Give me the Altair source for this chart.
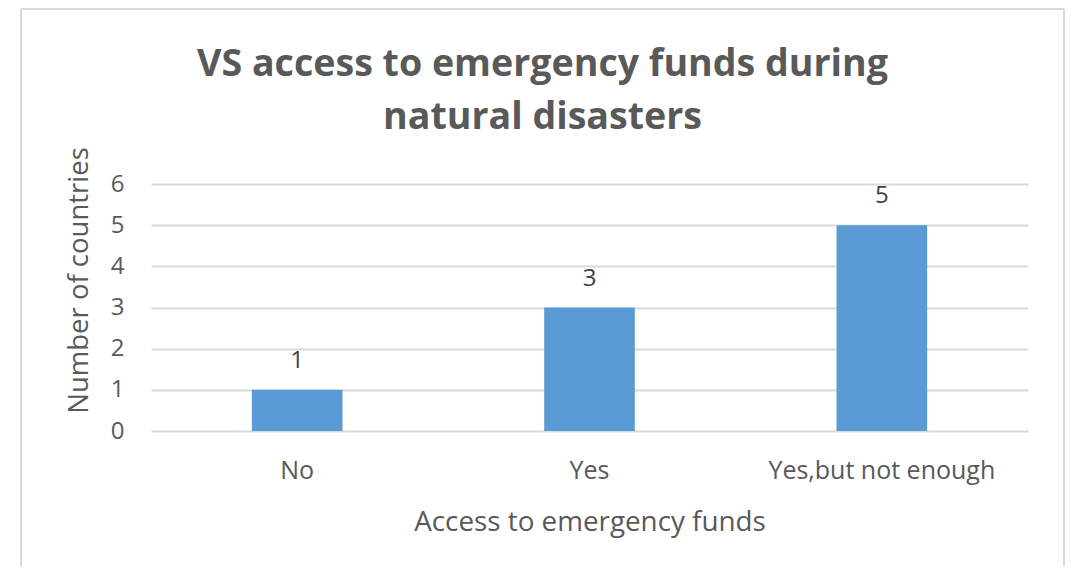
import altair as alt
import pandas as pd

categories = ["No", "Yes", "Yes,but not enough"]
counts = [1, 3, 5]
y_ticks = [0, 1, 2, 3, 4, 5, 6]

df = pd.DataFrame({"access": categories, "count": counts})
one = pd.DataFrame({"k": [0]})

FONT = "Open Sans"
GRAY = "#595959"
GRID = "#d9d9d9"
BAR = "#5B9BD5"

x_enc = alt.X(
    "access:N",
    sort=categories,
    scale=alt.Scale(paddingInner=0.69, paddingOuter=0.345),
    axis=alt.Axis(
        title="Access to emergency funds",
        labelAngle=0, domain=False, ticks=False, tickSize=0, grid=False,
        labelFont=FONT, labelFontSize=25, labelColor=GRAY, labelLimit=0,
        labelBaseline="alphabetic", labelPadding=47,
        titleFont=FONT, titleFontSize=27.8, titleFontWeight="normal",
        titleColor=GRAY, titleBaseline="alphabetic", titleY=99,
    ),
)
y_enc = alt.Y(
    "count:Q",
    scale=alt.Scale(domain=[0, 6], nice=False),
    axis=alt.Axis(
        title="Number of countries",
        values=y_ticks, domain=False, ticks=False, tickSize=0,
        grid=True, gridColor=GRID, gridWidth=2,
        labelFont=FONT, labelFontSize=24, labelColor=GRAY, labelPadding=27,
        titleFont=FONT, titleFontSize=27.5, titleFontWeight="normal",
        titleColor=GRAY, titleAngle=270, titleAlign="center",
        titleBaseline="alphabetic", titleX=-64, titleY=96,
    ),
)

bars = alt.Chart(df).mark_bar(color=BAR).encode(x=x_enc, y=y_enc)

labels = alt.Chart(df).mark_text(
    font=FONT, fontSize=24, color="#404040", baseline="alphabetic", align="center", dy=-22
).encode(x=alt.X("access:N", sort=categories), y=alt.Y("count:Q"), text="count:Q")

border_style = dict(color=GRID, strokeWidth=2)
left = alt.Chart(one).mark_rule(**border_style).encode(
    x=alt.value(-130), y=alt.value(-175), y2=alt.value(382))
right = alt.Chart(one).mark_rule(**border_style).encode(
    x=alt.value(913), y=alt.value(-175), y2=alt.value(382))
top = alt.Chart(one).mark_rule(**border_style).encode(
    x=alt.value(-130), x2=alt.value(913), y=alt.value(-175))

chart = alt.layer(bars, labels, left, right, top).properties(
    width=877,
    height=247,
    padding={"left": 20, "top": 8, "right": 0, "bottom": 0},
    background="white",
    title=alt.TitleParams(
        text=["VS access to emergency funds during", "natural disasters"],
        font=FONT, fontSize=37.6, fontWeight="bold", color=GRAY,
        anchor="middle", frame="bounds", baseline="alphabetic",
        lineHeight=53, offset=-159,
    ),
).configure_view(stroke=None)

chart.save("out.html", embed_options={"renderer": "svg", "actions": False})
